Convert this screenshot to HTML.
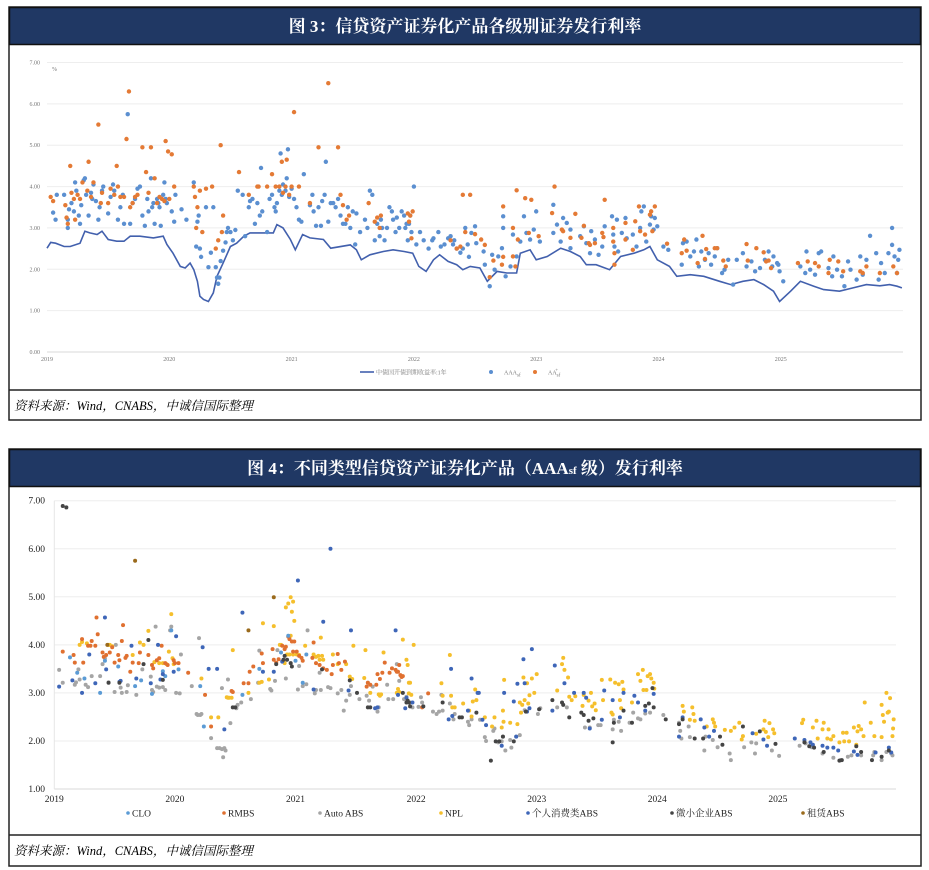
<!DOCTYPE html>
<html><head><meta charset="utf-8">
<style>
html,body{margin:0;padding:0;background:#fff;}
svg{display:block;}
.title{font-family:"Liberation Serif","Noto Serif CJK SC",serif;font-weight:bold;font-size:17px;fill:#fff;}
.src{font-family:"Liberation Serif","Noto Serif CJK SC",serif;font-style:italic;font-size:12.5px;fill:#000;}
.t1{font-family:"Liberation Serif","Noto Serif CJK SC",serif;font-size:6px;fill:#777;}
.t2{font-family:"Liberation Serif","Noto Serif CJK SC",serif;font-size:9.5px;fill:#222;}
</style></head>
<body>
<svg id="page" width="929" height="870" viewBox="0 0 929 870" xmlns="http://www.w3.org/2000/svg">
<g>
<rect x="9" y="7" width="912" height="413" fill="#fff" stroke="#222" stroke-width="1.5"/>
<rect x="9.5" y="7.5" width="911" height="37" fill="#203864" stroke="#111" stroke-width="1.5"/>
<text class="title" x="465" y="32" text-anchor="middle">图 3：信贷资产证券化产品各级别证券发行利率</text>
<line x1="9" y1="390" x2="921" y2="390" stroke="#222" stroke-width="1.5"/>
<text class="src" x="14" y="410">资料来源：Wind，CNABS，中诚信国际整理</text>
<g id="chart1"></g>
</g>
<g>
<rect x="9" y="449" width="912" height="417" fill="#fff" stroke="#222" stroke-width="1.5"/>
<rect x="9.5" y="449.5" width="911" height="37" fill="#203864" stroke="#111" stroke-width="1.5"/>
<text class="title" x="465" y="474" text-anchor="middle">图 4：不同类型信贷资产证券化产品（AAA<tspan font-size="11">sf</tspan> 级）发行利率</text>
<line x1="9" y1="835" x2="921" y2="835" stroke="#222" stroke-width="1.5"/>
<text class="src" x="14" y="855">资料来源：Wind，CNABS，中诚信国际整理</text>
<g id="chart2"></g>
</g>
</svg>
<script>
// ---------- Chart 1 data ----------
const c1YTicks=["0.00","1.00","2.00","3.00","4.00","5.00","6.00","7.00"];
const c1Years=[2019,2020,2021,2022,2023,2024,2025];
const yieldLine=[[2019.0,2.51],[2019.03,2.65],[2019.07,2.63],[2019.14,2.55],[2019.19,2.55],[2019.27,2.63],[2019.31,2.92],[2019.35,2.88],[2019.41,2.84],[2019.45,2.92],[2019.5,2.72],[2019.57,2.68],[2019.63,2.68],[2019.68,2.8],[2019.76,2.8],[2019.87,2.76],[2019.95,2.8],[2019.98,2.6],[2020.03,2.39],[2020.09,2.07],[2020.13,2.03],[2020.17,2.15],[2020.2,1.99],[2020.23,1.71],[2020.25,1.35],[2020.28,1.27],[2020.32,1.22],[2020.36,1.43],[2020.39,1.83],[2020.44,2.15],[2020.5,2.55],[2020.55,2.63],[2020.61,2.8],[2020.66,2.88],[2020.77,2.88],[2020.85,2.88],[2020.88,3.08],[2020.93,3.0],[2020.99,2.72],[2021.03,2.47],[2021.09,2.84],[2021.15,2.76],[2021.26,2.72],[2021.32,2.51],[2021.48,2.59],[2021.53,2.47],[2021.57,2.23],[2021.64,2.35],[2021.75,2.43],[2021.83,2.47],[2021.92,2.43],[2021.99,2.39],[2022.04,2.07],[2022.1,1.95],[2022.16,2.23],[2022.21,2.35],[2022.28,2.19],[2022.35,2.11],[2022.4,1.99],[2022.46,2.07],[2022.54,2.03],[2022.6,1.71],[2022.68,1.95],[2022.76,1.91],[2022.84,1.91],[2022.87,2.39],[2022.95,2.47],[2023.0,2.23],[2023.09,2.31],[2023.2,2.51],[2023.28,2.43],[2023.36,2.31],[2023.41,2.11],[2023.49,2.11],[2023.6,1.99],[2023.69,2.31],[2023.8,2.39],[2023.88,2.47],[2023.93,2.55],[2023.99,2.23],[2024.09,2.07],[2024.15,1.83],[2024.26,1.87],[2024.37,1.83],[2024.5,1.71],[2024.59,1.63],[2024.69,1.71],[2024.78,1.75],[2024.86,1.63],[2024.94,1.47],[2024.99,1.22],[2025.08,1.47],[2025.16,1.71],[2025.27,1.59],[2025.35,1.51],[2025.48,1.47],[2025.59,1.55],[2025.7,1.63],[2025.81,1.6],[2025.89,1.63],[2025.95,1.59],[2025.99,1.55]];
const aaaPoints=[[2019.05,3.37],[2019.07,3.2],[2019.08,3.8],[2019.14,3.8],[2019.17,3.0],[2019.17,3.2],[2019.18,3.45],[2019.2,3.6],[2019.22,3.4],[2019.23,4.1],[2019.24,3.9],[2019.26,3.3],[2019.27,3.1],[2019.28,3.55],[2019.3,4.15],[2019.31,4.2],[2019.32,3.8],[2019.34,3.3],[2019.36,3.85],[2019.37,3.7],[2019.38,4.05],[2019.4,3.65],[2019.42,3.2],[2019.43,3.5],[2019.45,3.9],[2019.46,4.0],[2019.5,3.35],[2019.52,3.75],[2019.54,4.05],[2019.55,3.9],[2019.58,3.2],[2019.6,3.5],[2019.62,3.8],[2019.63,3.1],[2019.66,5.75],[2019.68,3.1],[2019.7,3.6],[2019.72,3.7],[2019.74,3.95],[2019.76,4.0],[2019.78,3.3],[2019.8,3.05],[2019.82,3.7],[2019.83,3.4],[2019.85,4.2],[2019.86,3.5],[2019.87,3.6],[2019.88,3.1],[2019.9,3.7],[2019.91,3.6],[2019.92,3.5],[2019.93,3.05],[2019.95,3.8],[2019.96,4.1],[2019.97,3.7],[2019.98,3.6],[2020.02,3.4],[2020.04,3.15],[2020.05,3.8],[2020.1,3.45],[2020.14,3.2],[2020.2,4.1],[2020.22,2.55],[2020.23,3.15],[2020.24,3.3],[2020.25,2.5],[2020.26,2.3],[2020.3,3.5],[2020.32,2.05],[2020.34,2.4],[2020.36,3.5],[2020.38,2.05],[2020.39,1.8],[2020.4,1.65],[2020.41,1.8],[2020.42,2.2],[2020.44,2.45],[2020.46,2.65],[2020.47,2.9],[2020.48,3.0],[2020.5,2.9],[2020.52,2.7],[2020.54,2.95],[2020.56,3.9],[2020.6,3.8],[2020.62,2.8],[2020.65,3.5],[2020.66,3.65],[2020.68,3.7],[2020.7,3.1],[2020.72,3.6],[2020.74,3.3],[2020.75,4.45],[2020.76,3.4],[2020.8,2.9],[2020.82,3.7],[2020.84,3.8],[2020.86,3.5],[2020.87,3.4],[2020.88,3.6],[2020.9,3.9],[2020.91,4.8],[2020.92,3.8],[2020.93,4.05],[2020.95,3.9],[2020.96,4.2],[2020.97,4.9],[2020.98,3.75],[2021.0,3.95],[2021.02,3.7],[2021.04,3.5],[2021.06,3.2],[2021.08,3.15],[2021.1,4.3],[2021.15,3.55],[2021.17,3.8],[2021.18,3.4],[2021.2,3.05],[2021.22,3.5],[2021.24,3.05],[2021.25,3.65],[2021.27,3.8],[2021.28,4.6],[2021.3,3.15],[2021.32,3.6],[2021.34,3.6],[2021.36,3.5],[2021.38,3.7],[2021.4,3.3],[2021.42,3.1],[2021.44,3.1],[2021.46,3.5],[2021.48,3.0],[2021.5,3.4],[2021.52,2.6],[2021.53,3.35],[2021.56,2.9],[2021.6,3.2],[2021.62,3.0],[2021.64,3.9],[2021.66,3.8],[2021.68,2.7],[2021.7,3.1],[2021.72,2.8],[2021.73,3.2],[2021.74,3.0],[2021.76,2.7],[2021.78,3.0],[2021.8,3.5],[2021.82,3.4],[2021.83,3.2],[2021.85,2.9],[2021.86,3.25],[2021.88,3.0],[2021.9,3.4],[2021.92,3.3],[2021.93,3.0],[2021.94,3.1],[2021.95,2.7],[2021.96,3.1],[2021.97,3.3],[2021.98,2.9],[2022.0,4.0],[2022.02,2.6],[2022.05,2.9],[2022.08,2.7],[2022.12,2.5],[2022.15,2.7],[2022.16,2.75],[2022.2,2.9],[2022.22,2.55],[2022.25,2.6],[2022.28,2.75],[2022.3,2.8],[2022.32,2.6],[2022.33,2.7],[2022.35,2.5],[2022.38,2.4],[2022.4,2.5],[2022.42,3.0],[2022.44,2.6],[2022.45,2.3],[2022.47,2.88],[2022.5,3.04],[2022.51,2.63],[2022.57,2.43],[2022.58,2.11],[2022.62,1.59],[2022.64,2.35],[2022.66,1.99],[2022.69,2.31],[2022.72,2.51],[2022.73,3.28],[2022.73,3.0],[2022.75,1.83],[2022.79,2.07],[2022.81,2.84],[2022.84,2.31],[2022.87,2.67],[2022.9,3.28],[2022.92,2.88],[2022.95,2.72],[2022.98,2.96],[2023.0,3.4],[2023.03,2.67],[2023.14,3.56],[2023.14,2.88],[2023.17,3.08],[2023.2,2.67],[2023.22,3.24],[2023.25,3.12],[2023.28,2.96],[2023.28,2.51],[2023.36,2.8],[2023.39,3.04],[2023.41,2.63],[2023.44,2.39],[2023.45,2.92],[2023.48,2.72],[2023.51,2.35],[2023.54,2.55],[2023.56,3.04],[2023.62,3.28],[2023.63,2.84],[2023.64,2.55],[2023.66,3.2],[2023.67,2.43],[2023.7,2.88],[2023.73,3.24],[2023.74,2.75],[2023.79,2.84],[2023.82,2.55],[2023.85,3.0],[2023.86,3.4],[2023.88,3.52],[2023.9,2.67],[2023.93,3.08],[2023.94,3.28],[2023.96,2.96],[2023.97,3.24],[2023.99,3.04],[2024.04,2.55],[2024.08,2.47],[2024.19,2.11],[2024.2,2.63],[2024.23,2.67],[2024.26,2.31],[2024.29,2.43],[2024.31,2.72],[2024.33,2.07],[2024.35,2.43],[2024.38,2.23],[2024.41,2.39],[2024.43,2.11],[2024.46,2.31],[2024.48,2.51],[2024.52,1.91],[2024.54,1.99],[2024.57,2.23],[2024.61,1.63],[2024.64,2.23],[2024.69,2.39],[2024.72,2.07],[2024.76,2.19],[2024.79,1.95],[2024.83,2.03],[2024.87,2.23],[2024.9,2.43],[2024.93,2.07],[2024.94,2.31],[2024.97,2.15],[2024.98,2.11],[2024.99,1.95],[2025.02,1.71],[2025.16,2.07],[2025.2,1.91],[2025.21,2.43],[2025.24,1.99],[2025.28,1.87],[2025.31,2.39],[2025.33,2.43],[2025.39,2.03],[2025.42,1.83],[2025.43,2.31],[2025.46,1.99],[2025.5,1.83],[2025.52,1.59],[2025.55,2.19],[2025.57,1.99],[2025.62,1.75],[2025.65,2.31],[2025.67,1.87],[2025.7,2.23],[2025.73,2.81],[2025.78,2.39],[2025.8,1.75],[2025.82,2.15],[2025.85,1.91],[2025.88,2.39],[2025.91,3.0],[2025.91,2.59],[2025.93,2.31],[2025.95,1.91],[2025.96,2.23],[2025.97,2.47]];
const aaPlusPoints=[[2019.03,3.75],[2019.05,3.65],[2019.15,3.55],[2019.16,3.25],[2019.17,3.1],[2019.19,4.5],[2019.2,3.85],[2019.22,3.7],[2019.23,3.2],[2019.25,3.8],[2019.27,3.7],[2019.29,4.1],[2019.33,3.9],[2019.34,4.6],[2019.36,3.75],[2019.38,4.1],[2019.42,5.5],[2019.44,3.6],[2019.45,3.85],[2019.5,3.6],[2019.52,3.95],[2019.55,3.8],[2019.57,4.5],[2019.58,4.0],[2019.6,3.75],[2019.63,3.75],[2019.65,5.15],[2019.67,6.3],[2019.68,3.5],[2019.7,3.6],[2019.72,3.75],[2019.74,3.8],[2019.78,4.95],[2019.81,4.35],[2019.83,3.85],[2019.85,4.95],[2019.88,4.2],[2019.9,3.6],[2019.92,3.75],[2019.94,3.7],[2019.96,3.65],[2019.97,5.1],[2019.99,4.85],[2020.0,3.7],[2020.02,4.78],[2020.04,4.0],[2020.2,4.0],[2020.21,3.75],[2020.22,3.0],[2020.23,3.5],[2020.25,3.9],[2020.27,2.9],[2020.3,3.95],[2020.35,4.0],[2020.38,2.5],[2020.4,2.7],[2020.42,5.0],[2020.43,2.9],[2020.44,3.3],[2020.57,4.35],[2020.65,3.8],[2020.72,4.0],[2020.73,4.0],[2020.8,4.0],[2020.84,4.3],[2020.87,4.0],[2020.9,4.0],[2020.92,4.6],[2020.93,3.85],[2020.95,4.0],[2020.96,4.65],[2020.98,3.8],[2021.0,4.0],[2021.02,5.8],[2021.06,4.0],[2021.15,3.6],[2021.22,4.95],[2021.3,6.5],[2021.38,4.95],[2021.4,3.8],[2021.42,3.55],[2021.45,3.2],[2021.47,3.3],[2021.63,3.6],[2021.68,3.15],[2021.7,3.25],[2021.72,3.0],[2021.73,3.3],[2021.95,3.35],[2021.96,3.15],[2021.97,3.3],[2021.98,2.75],[2021.99,3.4],[2022.3,2.7],[2022.35,2.5],[2022.38,2.55],[2022.4,3.8],[2022.42,2.9],[2022.46,3.8],[2022.5,2.85],[2022.55,2.72],[2022.58,2.59],[2022.62,1.81],[2022.65,2.21],[2022.72,2.11],[2022.73,3.52],[2022.73,2.3],[2022.81,3.0],[2022.81,2.31],[2022.83,2.07],[2022.84,3.91],[2022.85,2.72],[2022.91,3.72],[2022.94,2.88],[2022.96,3.68],[2023.02,2.8],[2023.13,3.36],[2023.15,4.0],[2023.21,2.96],[2023.22,2.92],[2023.28,2.76],[2023.32,3.34],[2023.37,2.76],[2023.39,3.05],[2023.43,2.63],[2023.44,2.59],[2023.48,2.63],[2023.54,2.88],[2023.55,2.78],[2023.56,3.68],[2023.63,3.0],[2023.63,2.67],[2023.64,2.11],[2023.64,2.39],[2023.73,3.12],[2023.73,2.72],[2023.79,2.47],[2023.81,3.16],[2023.84,3.52],[2023.85,2.92],[2023.89,2.84],[2023.93,3.32],[2023.94,3.4],[2023.95,2.92],[2023.97,3.52],[2024.07,2.62],[2024.19,2.39],[2024.21,2.72],[2024.23,2.45],[2024.32,2.15],[2024.36,2.81],[2024.38,2.25],[2024.39,2.49],[2024.46,2.51],[2024.48,2.51],[2024.53,2.21],[2024.55,2.07],[2024.72,2.61],[2024.73,2.21],[2024.8,2.51],[2024.86,2.41],[2024.88,2.19],[2024.9,2.21],[2024.92,2.03],[2025.14,2.15],[2025.22,2.19],[2025.28,2.15],[2025.31,2.07],[2025.39,1.91],[2025.4,2.23],[2025.47,2.19],[2025.51,1.95],[2025.65,1.95],[2025.67,1.91],[2025.7,2.07],[2025.81,1.91],[2025.92,2.07],[2025.95,1.91]];

// ---------- Chart 2 data ----------
const c2YTicks=["1.00","2.00","3.00","4.00","5.00","6.00","7.00"];
const c2Years=[2019,2020,2021,2022,2023,2024,2025];
const c2Categories=["CLO","RMBS","Auto ABS","NPL","个人消费类ABS","微小企业ABS","租赁ABS"];
const cloPoints=[[2019.13,3.74],[2019.19,3.42],[2019.25,3.3],[2019.38,3.0],[2019.42,3.67],[2019.53,3.55],[2019.67,3.14],[2019.72,3.26],[2019.81,2.98],[2019.9,3.45],[2019.92,3.35],[2019.97,4.3],[2020.03,3.49],[2020.21,3.14],[2020.24,2.3],[2020.56,2.96],[2020.7,3.5],[2020.88,3.84],[2020.94,4.19],[2021.0,3.67],[2021.06,3.21],[2021.09,3.8]];
const rmbsPoints=[[2019.07,3.86],[2019.16,3.79],[2019.17,3.63],[2019.23,4.12],[2019.24,3.63],[2019.28,3.98],[2019.3,3.98],[2019.31,4.08],[2019.34,3.98],[2019.35,4.57],[2019.36,4.22],[2019.4,3.84],[2019.41,3.75],[2019.43,3.79],[2019.46,3.84],[2019.48,3.95],[2019.5,3.63],[2019.53,3.79],[2019.54,3.68],[2019.56,4.08],[2019.57,4.41],[2019.59,3.73],[2019.6,3.77],[2019.63,3.44],[2019.65,3.63],[2019.7,3.62],[2019.71,3.84],[2019.78,3.79],[2019.81,3.58],[2019.82,3.51],[2019.85,3.68],[2019.87,3.72],[2019.89,3.98],[2019.92,3.62],[2019.94,3.58],[2019.99,3.68],[2020.0,3.62],[2020.03,3.62],[2020.11,3.42],[2020.25,2.96],[2020.3,2.3],[2020.47,3.04],[2020.48,3.02],[2020.57,3.2],[2020.61,3.2],[2020.62,3.44],[2020.65,3.55],[2020.72,3.82],[2020.73,3.62],[2020.81,3.91],[2020.82,3.69],[2020.84,3.63],[2020.86,3.7],[2020.89,3.98],[2020.91,3.91],[2020.92,3.96],[2020.94,4.17],[2020.95,4.12],[2020.97,4.07],[2020.98,3.86],[2020.99,4.07],[2021.01,3.86],[2021.03,3.77],[2021.05,3.73],[2021.06,3.67],[2021.14,3.73],[2021.15,4.05],[2021.17,3.62],[2021.2,3.58],[2021.23,3.51],[2021.26,3.48],[2021.3,3.39],[2021.31,3.58],[2021.35,3.81],[2021.36,3.62],[2021.38,3.48],[2021.41,3.65],[2021.59,3.13],[2021.6,3.21],[2021.62,3.17],[2021.67,3.17],[2021.68,3.39],[2021.7,3.29],[2021.72,3.42],[2021.74,3.63],[2021.78,3.42],[2021.8,3.51],[2021.83,3.48],[2021.84,3.44],[2021.85,3.44],[2021.86,3.58],[2021.87,3.37],[2021.88,3.33],[2021.89,3.35],[2022.05,2.7],[2022.1,2.99]];
const autoPoints=[[2019.04,3.48],[2019.07,3.21],[2019.17,3.17],[2019.18,3.22],[2019.2,3.49],[2019.21,3.28],[2019.26,3.17],[2019.28,3.12],[2019.31,3.35],[2019.38,3.35],[2019.4,3.6],[2019.42,3.72],[2019.45,3.22],[2019.5,3.02],[2019.51,4.0],[2019.55,3.11],[2019.56,3.0],[2019.6,3.02],[2019.61,3.16],[2019.68,2.96],[2019.73,3.49],[2019.8,3.34],[2019.81,3.06],[2019.82,3.02],[2019.84,4.38],[2019.85,3.13],[2019.87,3.11],[2019.9,3.12],[2019.92,3.06],[2019.96,4.3],[2019.97,4.38],[2020.01,3.0],[2020.04,2.99],[2020.05,3.8],[2020.14,3.14],[2020.18,2.56],[2020.19,2.54],[2020.2,4.14],[2020.21,2.54],[2020.22,2.56],[2020.3,2.06],[2020.35,1.85],[2020.37,1.85],[2020.39,1.83],[2020.4,1.66],[2020.41,1.85],[2020.42,1.8],[2020.39,3.1],[2020.44,3.28],[2020.46,2.37],[2020.51,2.68],[2020.52,2.75],[2020.55,2.8],[2020.63,2.87],[2020.7,3.88],[2020.69,3.21],[2020.79,3.08],[2020.8,3.05],[2020.83,3.25],[2020.85,3.89],[2020.92,3.3],[2021.02,3.07],[2021.03,3.56],[2021.06,3.14],[2021.09,3.18],[2021.1,4.3],[2021.16,2.99],[2021.17,3.06],[2021.2,3.42],[2021.21,3.06],[2021.27,3.12],[2021.29,3.1],[2021.35,2.99],[2021.38,3.06],[2021.4,2.63],[2021.42,2.84],[2021.45,2.96],[2021.46,3.14],[2021.53,2.87],[2021.59,2.94],[2021.6,3.21],[2021.61,2.84],[2021.64,3.13],[2021.68,2.61],[2021.69,2.7],[2021.76,3.17],[2021.77,2.87],[2021.81,2.87],[2021.84,3.6],[2021.86,3.25],[2021.9,2.87],[2021.92,2.92],[2021.95,2.8],[2021.97,2.7],[2022.02,2.71],[2022.04,2.91],[2022.05,2.8],[2022.14,2.61],[2022.17,2.56],[2022.19,2.61],[2022.21,2.96],[2022.22,2.63],[2022.28,2.78],[2022.31,2.45],[2022.32,2.56],[2022.43,2.4],[2022.44,2.33],[2022.46,2.45],[2022.53,2.44],[2022.57,2.08],[2022.58,2.0],[2022.64,2.21],[2022.65,2.26],[2022.68,1.97],[2022.71,1.99],[2022.72,2.09],[2022.74,1.8],[2022.78,2.02],[2022.79,1.86],[2022.83,2.09],[2022.86,2.12],[2022.9,2.64],[2023.01,2.56],[2023.03,2.68],[2023.17,2.7],[2023.25,2.7],[2023.4,2.28],[2023.44,2.28],[2023.51,2.33],[2023.53,2.33],[2023.63,2.24],[2023.64,2.44],[2023.68,2.4],[2023.7,2.21],[2023.77,2.38],[2023.8,2.59],[2023.84,2.47],[2023.86,2.45],[2023.9,2.57],[2023.94,2.59],[2024.05,2.54],[2024.18,2.38],[2024.19,2.21],[2024.2,2.05],[2024.26,2.3],[2024.27,2.08],[2024.39,1.8],[2024.4,2.09],[2024.46,2.02],[2024.5,1.87],[2024.6,1.74],[2024.61,1.6],[2024.72,1.87],[2024.78,1.97],[2024.81,1.74],[2024.82,1.95],[2024.95,1.8],[2025.01,1.69],[2025.18,1.9],[2025.23,1.95],[2025.28,1.87],[2025.37,1.74],[2025.46,1.65],[2025.52,1.6],[2025.58,1.67],[2025.61,1.7],[2025.69,1.7],[2025.79,1.7],[2025.8,1.77],[2025.86,1.6],[2025.9,1.77],[2025.94,1.74],[2025.95,1.7]];
const nplPoints=[[2019.21,4.0],[2019.23,4.06],[2019.27,4.03],[2019.45,4.0],[2019.46,4.0],[2019.48,3.97],[2019.65,3.79],[2019.71,4.05],[2019.74,4.0],[2019.78,4.29],[2019.83,3.64],[2019.87,3.62],[2019.9,3.62],[2019.93,3.6],[2019.95,3.86],[2019.97,4.64],[2019.98,3.72],[2019.99,3.6],[2020.22,3.3],[2020.3,2.49],[2020.36,2.49],[2020.43,2.91],[2020.44,2.9],[2020.45,2.9],[2020.47,2.9],[2020.48,3.89],[2020.61,3.0],[2020.7,3.21],[2020.72,3.23],[2020.73,4.45],[2020.78,3.28],[2020.82,4.39],[2020.87,4.0],[2020.88,4.0],[2020.91,3.62],[2020.92,4.78],[2020.94,4.86],[2020.96,4.99],[2020.97,4.69],[2020.98,4.9],[2020.99,4.5],[2020.96,4.19],[2020.93,3.8],[2020.95,3.8],[2020.98,3.8],[2021.01,3.8],[2021.03,3.79],[2021.08,3.98],[2021.15,3.8],[2021.17,3.75],[2021.19,3.77],[2021.2,3.69],[2021.21,4.15],[2021.22,3.77],[2021.23,3.69],[2021.31,3.8],[2021.35,3.6],[2021.42,3.6],[2021.45,3.34],[2021.47,3.29],[2021.48,3.98],[2021.57,3.31],[2021.58,3.89],[2021.62,3.0],[2021.69,2.97],[2021.7,2.94],[2021.71,2.97],[2021.73,3.84],[2021.84,3.0],[2021.85,3.08],[2021.86,3.02],[2021.89,4.11],[2021.92,3.69],[2021.93,3.58],[2021.94,3.21],[2021.95,3.21],[2021.94,2.99],[2021.96,2.96],[2021.98,4.0],[2022.21,3.2],[2022.22,2.94],[2022.28,3.79],[2022.29,2.94],[2022.3,2.7],[2022.32,2.7],[2022.39,2.78],[2022.44,2.63],[2022.46,2.51],[2022.47,2.82],[2022.49,3.07],[2022.5,2.85],[2022.57,2.49],[2022.63,2.3],[2022.65,2.49],[2022.71,2.28],[2022.72,2.63],[2022.725,2.4],[2022.73,3.27],[2022.78,2.38],[2022.84,2.35],[2022.86,2.8],[2022.87,2.59],[2022.88,2.75],[2022.89,3.32],[2022.9,2.85],[2022.92,3.2],[2022.93,2.78],[2022.94,2.95],[2022.96,3.3],[2022.98,3.0],[2023.0,3.39],[2023.17,3.05],[2023.21,3.6],[2023.22,3.73],[2023.23,3.48],[2023.26,3.32],[2023.27,2.92],[2023.29,2.85],[2023.32,2.93],[2023.38,2.73],[2023.39,2.96],[2023.43,2.84],[2023.45,3.0],[2023.46,2.72],[2023.48,2.78],[2023.49,2.64],[2023.54,3.27],[2023.55,2.85],[2023.61,3.28],[2023.62,2.59],[2023.63,2.55],[2023.65,3.21],[2023.68,3.18],[2023.69,2.85],[2023.7,2.68],[2023.71,3.23],[2023.72,3.07],[2023.79,2.8],[2023.84,3.39],[2023.86,3.25],[2023.88,3.48],[2023.885,3.06],[2023.91,3.06],[2023.92,3.35],[2023.94,3.39],[2023.95,3.3],[2023.97,3.21],[2023.975,3.09],[2024.21,2.73],[2024.22,2.61],[2024.27,2.44],[2024.29,2.7],[2024.3,2.56],[2024.31,2.42],[2024.41,2.3],[2024.46,2.45],[2024.47,2.38],[2024.48,2.3],[2024.56,2.23],[2024.61,2.21],[2024.64,2.28],[2024.68,2.38],[2024.7,2.03],[2024.71,2.1],[2024.82,2.15],[2024.88,2.24],[2024.89,2.42],[2024.9,2.19],[2024.92,2.08],[2024.93,2.37],[2024.96,2.24],[2024.97,2.16],[2025.2,2.37],[2025.21,2.44],[2025.29,2.28],[2025.32,2.42],[2025.33,2.05],[2025.37,2.24],[2025.38,2.38],[2025.41,2.05],[2025.42,2.24],[2025.44,2.03],[2025.46,2.1],[2025.51,1.97],[2025.54,2.17],[2025.55,1.99],[2025.57,2.17],[2025.59,1.99],[2025.63,2.28],[2025.65,1.92],[2025.66,2.2],[2025.67,2.31],[2025.69,2.24],[2025.71,2.1],[2025.72,2.8],[2025.77,2.38],[2025.8,2.1],[2025.86,2.08],[2025.86,2.75],[2025.87,2.54],[2025.88,2.4],[2025.9,3.0],[2025.91,2.59],[2025.92,2.61],[2025.93,2.89],[2025.95,2.1],[2025.955,2.26],[2025.96,2.45]];
const consumerPoints=[[2019.04,3.13],[2019.15,3.26],[2019.23,3.0],[2019.29,3.8],[2019.34,3.2],[2019.42,4.57],[2019.43,3.49],[2019.54,3.23],[2019.55,3.25],[2019.64,3.98],[2019.68,3.3],[2019.8,3.2],[2019.86,4.0],[2019.88,3.28],[2019.9,3.39],[2019.99,3.44],[2020.01,4.18],[2020.23,3.95],[2020.28,3.5],[2020.35,3.5],[2020.41,2.24],[2020.56,4.67],[2020.73,3.44],[2020.82,3.44],[2020.89,3.65],[2021.02,5.34],[2021.15,3.07],[2021.23,4.48],[2021.29,6.0],[2021.44,3.05],[2021.46,4.3],[2021.66,2.68],[2021.68,2.7],[2021.83,4.3],[2021.85,2.96],[2021.91,2.68],[2021.92,2.9],[2021.97,2.8],[2022.27,2.45],[2022.29,3.5],[2022.3,2.52],[2022.43,2.63],[2022.46,3.3],[2022.51,3.0],[2022.52,3.0],[2022.55,2.44],[2022.58,2.33],[2022.71,1.9],[2022.73,3.0],[2022.81,2.82],[2022.83,2.09],[2022.84,3.19],[2022.89,3.7],[2022.9,3.2],[2022.92,2.61],[2022.94,2.68],[2022.96,3.91],[2023.13,2.63],[2023.15,3.57],[2023.23,3.2],[2023.31,3.0],[2023.39,3.0],[2023.41,2.9],[2023.44,2.26],[2023.54,2.44],[2023.56,3.05],[2023.63,2.85],[2023.69,2.49],[2023.72,3.0],[2023.81,2.94],[2023.84,2.8],[2023.9,2.63],[2023.97,2.98],[2024.18,2.09],[2024.21,2.49],[2024.36,2.45],[2024.39,2.28],[2024.43,2.09],[2024.47,2.21],[2024.79,2.16],[2024.88,2.03],[2024.91,1.9],[2025.14,2.05],[2025.22,2.02],[2025.27,1.97],[2025.29,1.92],[2025.37,1.9],[2025.41,1.86],[2025.46,1.86],[2025.5,1.8],[2025.63,1.78],[2025.66,1.71],[2025.81,1.76],[2025.92,1.86],[2025.94,1.76]];
const smePoints=[[2019.07,6.89],[2019.1,6.86],[2019.45,3.21],[2019.54,3.21],[2019.74,3.6],[2019.78,4.1],[2019.9,3.27],[2020.48,2.7],[2020.5,2.7],[2020.84,3.6],[2020.9,3.69],[2020.91,3.77],[2020.93,3.69],[2020.96,3.62],[2020.97,3.55],[2021.22,3.49],[2021.45,3.26],[2021.51,3.0],[2021.6,2.7],[2021.62,2.7],[2021.89,3.0],[2021.92,2.8],[2021.93,2.84],[2021.94,2.8],[2021.95,2.72],[2022.06,2.72],[2022.22,2.8],[2022.36,2.49],[2022.38,2.49],[2022.5,2.59],[2022.62,1.59],[2022.66,1.99],[2022.69,1.99],[2022.72,2.09],[2022.81,1.99],[2022.91,2.61],[2023.02,2.66],[2023.13,2.85],[2023.21,2.8],[2023.22,2.75],[2023.27,2.49],[2023.37,2.59],[2023.39,2.54],[2023.43,2.42],[2023.47,2.47],[2023.63,1.97],[2023.64,2.38],[2023.72,2.63],[2023.79,2.38],[2023.9,2.73],[2023.93,2.78],[2023.96,3.1],[2023.97,2.7],[2024.07,2.45],[2024.18,2.35],[2024.21,2.45],[2024.31,2.05],[2024.38,2.05],[2024.52,2.09],[2024.54,1.92],[2024.71,2.3],[2024.85,2.2],[2024.98,1.94],[2025.22,1.97],[2025.26,1.89],[2025.3,1.86],[2025.38,1.77],[2025.51,1.59],[2025.53,1.6],[2025.65,1.89],[2025.69,1.77],[2025.78,1.6],[2025.86,1.67],[2025.92,1.8]];
const leasePoints=[[2019.44,4.0],[2019.67,5.75],[2020.61,4.3],[2020.82,4.99]];

const NS='http://www.w3.org/2000/svg';
function mk(tag,attrs,parent){const e=document.createElementNS(NS,tag);for(const k in attrs)e.setAttribute(k,attrs[k]);parent.appendChild(e);return e;}

// ---------- Chart 1 ----------
(function(){
const g=document.getElementById('chart1');
const x0=47,xPerYear=122.3,xRight=903,yTop=62.5,yBot=352,vMax=7;
const xs=v=>x0+(v-2019)*xPerYear;
const ys=v=>yBot-(v/vMax)*(yBot-yTop);
c1YTicks.forEach(t=>{
 const y=ys(parseFloat(t));
 const ln=mk('line',{x1:x0,x2:xRight,y1:y,y2:y,stroke:t==="0.00"?'#d9d9d9':'#eeeeee','stroke-width':1},g);
 
 
 const tx=mk('text',{x:x0-7,y:y+2,'text-anchor':'end',class:'t1'},g);tx.textContent=t;
 
 
});
const pct=mk('text',{x:52,y:71,class:'t1'},g);pct.textContent='%';


c1Years.forEach(yr=>{
 const tx=mk('text',{x:xs(yr),y:361,'text-anchor':'middle',class:'t1'},g);tx.textContent=String(yr);
 
 
});
const d=yieldLine.map((p,i)=>(i?'L':'M')+xs(p[0]).toFixed(1)+' '+ys(p[1]).toFixed(1)).join(' ');
const path=mk('path',{d:d,fill:'none',stroke:'#4260ad','stroke-width':1.6},g);


aaaPoints.forEach(p=>{
 const c=mk('circle',{cx:xs(p[0]),cy:ys(p[1]),r:2.2,fill:'#5b8fd0'},g);
 
 
});
aaPlusPoints.forEach(p=>{
 const c=mk('circle',{cx:xs(p[0]),cy:ys(p[1]),r:2.2,fill:'#e47a35'},g);
 
 
});
// legend
const lg=mk('g',{},g);


mk('line',{x1:360,x2:374,y1:372,y2:372,stroke:'#4260ad','stroke-width':1.6},lg);
let t=mk('text',{x:376,y:374.5,class:'t1'},lg);t.textContent='中债国开债到期收益率:1年';t.setAttribute('font-size','7');
mk('circle',{cx:491,cy:372,r:2,fill:'#5b8fd0'},lg);
t=mk('text',{x:504,y:374.5,class:'t1'},lg);t.innerHTML='AAA<tspan font-size="5" dy="2">sf</tspan>';t.setAttribute('font-size','7');
mk('circle',{cx:535,cy:372,r:2,fill:'#e47a35'},lg);
t=mk('text',{x:548,y:374.5,class:'t1'},lg);t.innerHTML='AA<tspan font-size="5" dy="2">sf</tspan><tspan font-size="5" dx="-5" dy="-5">+</tspan>';t.setAttribute('font-size','7');
})();

// ---------- Chart 2 ----------
(function(){
const g=document.getElementById('chart2');
const x0=54.3,xPerYear=120.6,xRight=896,yTop=500.7,yBot=789,vMin=1,vMax=7;
const xs=v=>x0+(v-2019)*xPerYear;
const ys=v=>yBot-(v-vMin)/(vMax-vMin)*(yBot-yTop);
c2YTicks.forEach(t=>{
 const y=ys(parseFloat(t));
 const ln=mk('line',{x1:x0,x2:xRight,y1:y,y2:y,stroke:t==="1.00"?'#d9d9d9':'#eeeeee','stroke-width':1},g);
 
 
 const tx=mk('text',{x:45,y:y+3,'text-anchor':'end',class:'t2'},g);tx.textContent=t;
 
 
});
mk('line',{x1:x0,x2:x0,y1:yTop,y2:yBot,stroke:'#e6e6e6','stroke-width':1},g);
c2Years.forEach(yr=>{
 const tx=mk('text',{x:xs(yr),y:802,'text-anchor':'middle',class:'t2'},g);tx.textContent=String(yr);
 
 
});
const colors=['#5b9bd5','#e07030','#a5a5a5','#f5bf2c','#3e66b8','#444444','#9a6a1c'];
const series=[cloPoints,rmbsPoints,autoPoints,nplPoints,consumerPoints,smePoints,leasePoints];
const order=[2,3,1,0,4,5,6];
order.forEach(si=>{
 series[si].forEach(p=>{
  const c=mk('circle',{cx:xs(p[0]),cy:ys(p[1]),r:2,fill:colors[si]},g);
  
  
 });
});
const legendX=[128,224,320,441,528,672,803];
c2Categories.forEach((name,i)=>{
 const lg=mk('g',{},g);
 
 
 mk('circle',{cx:legendX[i],cy:813,r:1.8,fill:colors[i]},lg);
 const tx=mk('text',{x:legendX[i]+4,y:816.5,class:'t2'},lg);tx.textContent=name;
});
})();
</script>
</body></html>
